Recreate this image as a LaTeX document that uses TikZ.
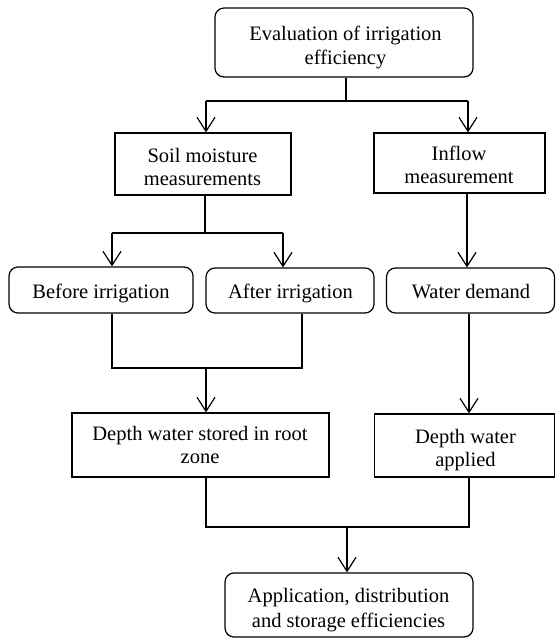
\documentclass[tikz,border=0pt]{standalone}
\usepackage{fontspec}
\setmainfont{Liberation Serif}
\usetikzlibrary{arrows.meta}
\begin{document}
\begin{tikzpicture}[x=1pt,y=-1pt,
  boxsq/.style={draw, line width=1.2pt, inner sep=0pt},
  boxrd/.style={boxsq, rounded corners=9pt},
  txt/.style={font=\fontsize{20.5}{24}\selectfont, anchor=base, inner sep=0pt},
  conn/.style={line width=1.2pt},
  arr/.style={conn, -{Straight Barb[length=14pt,width=18pt,line width=1.2pt]}}]
\useasboundingbox (0,0) rectangle (556,638);
% boxes
\node[boxrd, minimum width=258pt, minimum height=69pt] (top) at (344,42.5) {};
\node[boxsq, minimum width=176pt, minimum height=62pt] (soil) at (203,164) {};
\node[boxsq, minimum width=171pt, minimum height=60pt] (inflow) at (459.5,163) {};
\node[boxrd, minimum width=184pt, minimum height=46pt] (before) at (101,290) {};
\node[boxrd, minimum width=168pt, minimum height=45pt] (after) at (290,290.5) {};
\node[boxrd, minimum width=168pt, minimum height=45pt] (water) at (470.5,290.5) {};
\node[boxsq, minimum width=257pt, minimum height=64pt] (stored) at (200.5,445) {};
\node[boxsq, minimum width=180pt, minimum height=63pt] (applied) at (464.5,445.5) {};
\node[boxrd, minimum width=248pt, minimum height=64pt] (final) at (349,605) {};
% texts
\node[txt] (t1a) at (345.5,40) {Evaluation of irrigation};
\node[txt] (t1b) at (345.5,64) {efficiency};
\node[txt] (t2a) at (202.5,162) {Soil moisture};
\node[txt] (t2b) at (202.5,185) {measurements};
\node[txt] (t3a) at (459,160) {Inflow};
\node[txt] (t3b) at (459,183) {measurement};
\node[txt] (t4) at (101,298) {Before irrigation};
\node[txt] (t5) at (290.5,298) {After irrigation};
\node[txt] (t6) at (471,298) {Water demand};
\node[txt] (t7a) at (200,440) {Depth water stored in root};
\node[txt] (t7b) at (200,463) {zone};
\node[txt] (t8a) at (465.5,443) {Depth water};
\node[txt] (t8b) at (465.5,466) {applied};
\node[txt] (t9a) at (348.5,602) {Application, distribution};
\node[txt] (t9b) at (348.5,627) {and storage efficiencies};
% connectors
\coordinate (j0) at (346,101);
\coordinate (a1) at (206,101);
\coordinate (a2) at (468,101);
\draw[conn] (j0 |- top.south) -- (j0);
\draw[conn] (a1) -- (a2);
\draw[arr] (a1) -- (a1 |- soil.north);
\draw[arr] (a2) -- (a2 |- inflow.north);
\coordinate (b0) at (205,233);
\coordinate (b1) at (112,233);
\coordinate (b2) at (283,233);
\draw[conn] (b0 |- soil.south) -- (b0);
\draw[conn] (b1) -- (b2);
\draw[arr] (b1) -- (b1 |- before.north);
\draw[arr] (b2) -- (b2 |- after.north);
\coordinate (c0) at (467,0);
\draw[arr] (c0 |- inflow.south) -- (c0 |- water.north);
\coordinate (d0) at (206,368);
\coordinate (d1) at (112,368);
\coordinate (d2) at (302,368);
\draw[conn] (d1 |- before.south) -- (d1) -- (d2) -- (d2 |- after.south);
\draw[arr] (d0) -- (d0 |- stored.north);
\coordinate (e0) at (469,0);
\draw[arr] (e0 |- water.south) -- (e0 |- applied.north);
\coordinate (f0) at (347,527);
\coordinate (f1) at (206,527);
\coordinate (f2) at (469,527);
\draw[conn] (f1 |- stored.south) -- (f1) -- (f2) -- (f2 |- applied.south);
\draw[arr] (f0) -- (f0 |- final.north);
\end{tikzpicture}
\end{document}
